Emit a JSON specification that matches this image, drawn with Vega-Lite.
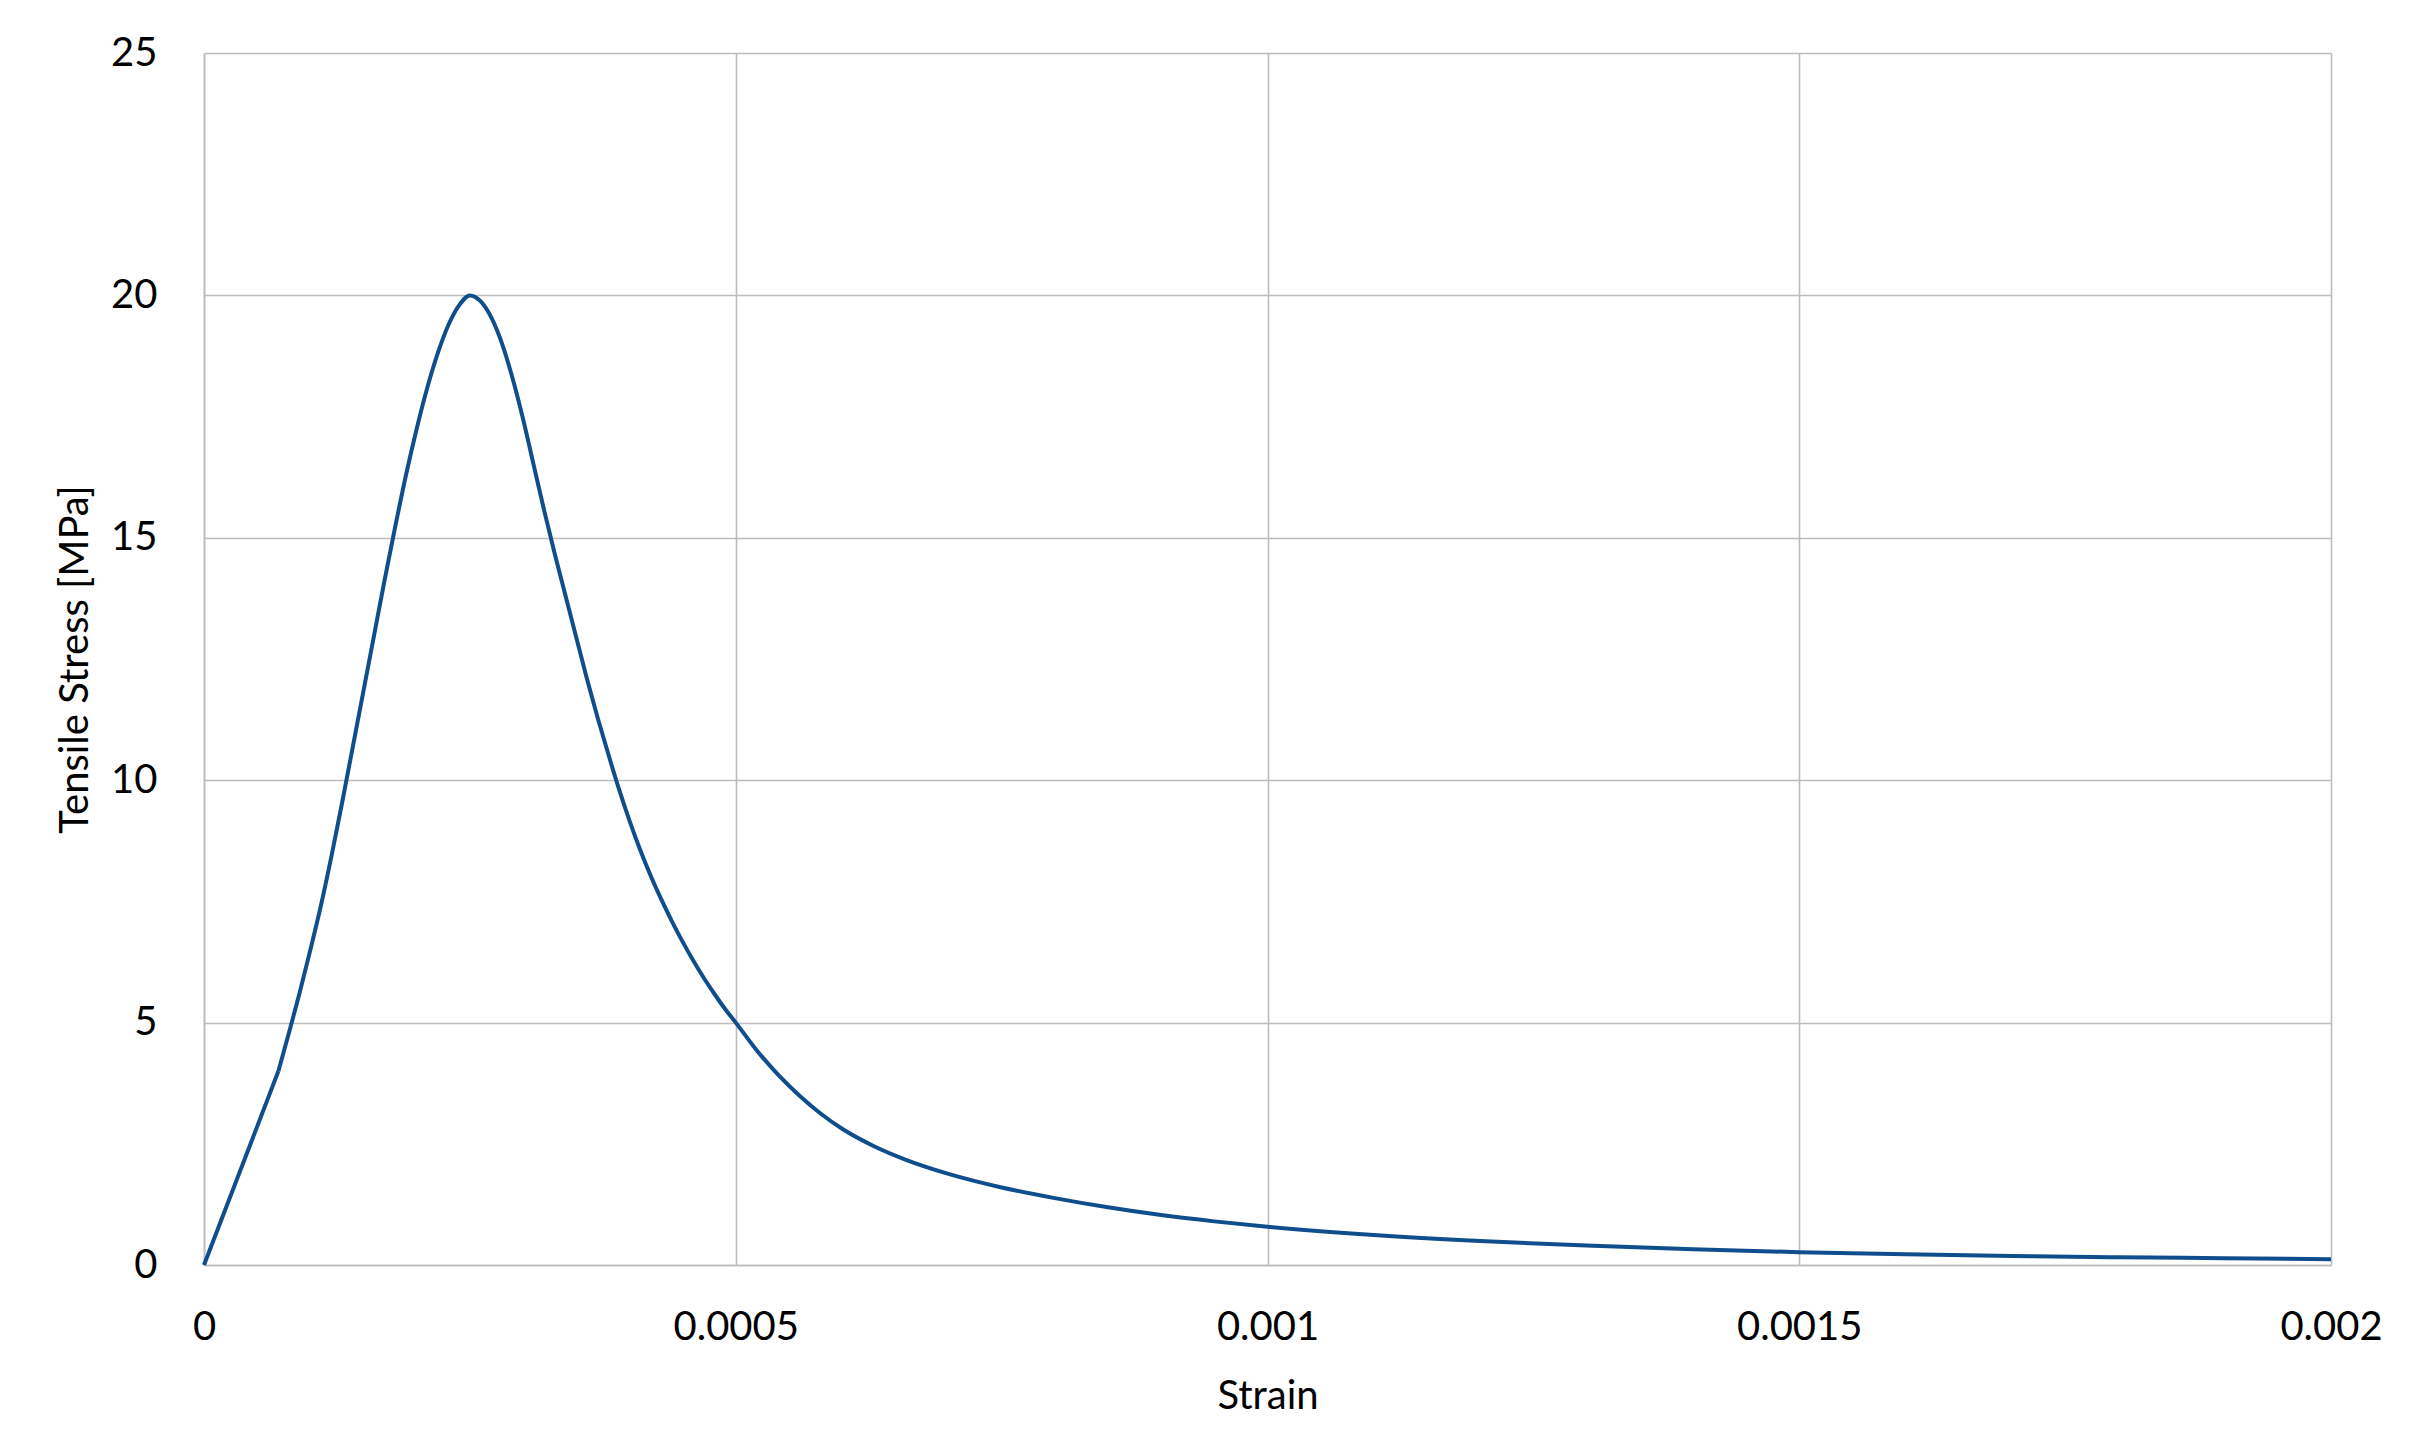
{
  "$schema": "https://vega.github.io/schema/vega-lite/v6.json",
  "width": 2127,
  "height": 1212,
  "autosize": {"type": "none"},
  "padding": {"left": 204, "top": 53, "right": 79, "bottom": 180},
  "background": "white",
  "config": {
    "view": {"stroke": null},
    "font": "Lato",
    "axis": {
      "labelFont": "Lato",
      "titleFont": "Lato",
      "labelFontSize": 40,
      "titleFontSize": 40,
      "labelColor": "#000000",
      "titleColor": "#000000",
      "titleFontWeight": "normal",
      "ticks": false,
      "gridColor": "#bdbdbd",
      "gridWidth": 1.6,
      "domainColor": "#bdbdbd",
      "domainWidth": 1.6
    }
  },
  "data": {
    "values": [
      {"strain": 0, "stress": 0},
      {"strain": 0.00007, "stress": 4.0},
      {"strain": 0.00008, "stress": 4.8},
      {"strain": 0.00009, "stress": 5.62},
      {"strain": 0.0001, "stress": 6.5},
      {"strain": 0.00011, "stress": 7.42},
      {"strain": 0.00012, "stress": 8.45},
      {"strain": 0.00013, "stress": 9.55},
      {"strain": 0.00014, "stress": 10.7},
      {"strain": 0.00015, "stress": 11.85},
      {"strain": 0.00016, "stress": 13.0},
      {"strain": 0.00017, "stress": 14.15},
      {"strain": 0.00018, "stress": 15.25},
      {"strain": 0.00019, "stress": 16.3},
      {"strain": 0.0002, "stress": 17.25},
      {"strain": 0.00021, "stress": 18.1},
      {"strain": 0.00022, "stress": 18.82},
      {"strain": 0.00023, "stress": 19.4},
      {"strain": 0.00024, "stress": 19.8},
      {"strain": 0.00025, "stress": 20.0},
      {"strain": 0.00026, "stress": 19.88},
      {"strain": 0.00027, "stress": 19.55},
      {"strain": 0.00028, "stress": 19.02},
      {"strain": 0.00029, "stress": 18.3},
      {"strain": 0.0003, "stress": 17.45},
      {"strain": 0.00031, "stress": 16.5},
      {"strain": 0.00032, "stress": 15.55},
      {"strain": 0.00033, "stress": 14.65},
      {"strain": 0.00034, "stress": 13.8},
      {"strain": 0.00035, "stress": 12.95},
      {"strain": 0.00036, "stress": 12.1},
      {"strain": 0.00037, "stress": 11.3},
      {"strain": 0.00038, "stress": 10.55},
      {"strain": 0.00039, "stress": 9.83},
      {"strain": 0.0004, "stress": 9.17},
      {"strain": 0.00041, "stress": 8.57},
      {"strain": 0.00042, "stress": 8.03},
      {"strain": 0.00043, "stress": 7.54},
      {"strain": 0.00044, "stress": 7.09},
      {"strain": 0.00045, "stress": 6.67},
      {"strain": 0.00046, "stress": 6.28},
      {"strain": 0.00047, "stress": 5.92},
      {"strain": 0.00048, "stress": 5.59},
      {"strain": 0.00049, "stress": 5.28},
      {"strain": 0.0005, "stress": 5.0},
      {"strain": 0.00052, "stress": 4.42},
      {"strain": 0.00054, "stress": 3.92},
      {"strain": 0.00056, "stress": 3.49},
      {"strain": 0.00058, "stress": 3.12},
      {"strain": 0.0006, "stress": 2.81},
      {"strain": 0.00063, "stress": 2.45},
      {"strain": 0.00066, "stress": 2.17},
      {"strain": 0.0007, "stress": 1.88},
      {"strain": 0.00075, "stress": 1.6},
      {"strain": 0.0008, "stress": 1.38},
      {"strain": 0.00085, "stress": 1.19},
      {"strain": 0.0009, "stress": 1.03},
      {"strain": 0.00095, "stress": 0.9},
      {"strain": 0.001, "stress": 0.79},
      {"strain": 0.0011, "stress": 0.62},
      {"strain": 0.0012, "stress": 0.495},
      {"strain": 0.0013, "stress": 0.4},
      {"strain": 0.0014, "stress": 0.325},
      {"strain": 0.0015, "stress": 0.265},
      {"strain": 0.0016, "stress": 0.22},
      {"strain": 0.0017, "stress": 0.185},
      {"strain": 0.0018, "stress": 0.16},
      {"strain": 0.0019, "stress": 0.14},
      {"strain": 0.002, "stress": 0.12}
    ]
  },
  "encoding": {
    "x": {
      "field": "strain",
      "type": "quantitative",
      "scale": {"domain": [0, 0.002], "nice": false, "zero": true},
      "axis": {
        "title": "Strain",
        "values": [0, 0.0005, 0.001, 0.0015, 0.002],
        "format": "~g",
        "labelPadding": 42,
        "labelFlush": false,
        "titleBaseline": "alphabetic",
        "titleY": 143,
        "titleX": 1063.5,
        "titleAlign": "center"
      }
    },
    "y": {
      "field": "stress",
      "type": "quantitative",
      "scale": {"domain": [0, 25], "nice": false},
      "axis": {
        "title": "Tensile Stress [MPa]",
        "values": [0, 5, 10, 15, 20, 25],
        "labelPadding": 47,
        "labelFlush": false,
        "titleBaseline": "alphabetic",
        "titleAngle": -90,
        "titleX": -117,
        "titleY": 606,
        "titleAlign": "center"
      }
    }
  },
  "layer": [
    {
      "transform": [{"filter": "datum.strain <= 0.00007"}],
      "mark": {"type": "line", "color": "#0f4e8d", "strokeWidth": 4, "interpolate": "linear"}
    },
    {
      "transform": [{"filter": "datum.strain >= 0.00007"}],
      "mark": {"type": "line", "color": "#0f4e8d", "strokeWidth": 4, "interpolate": "monotone"}
    }
  ]
}
